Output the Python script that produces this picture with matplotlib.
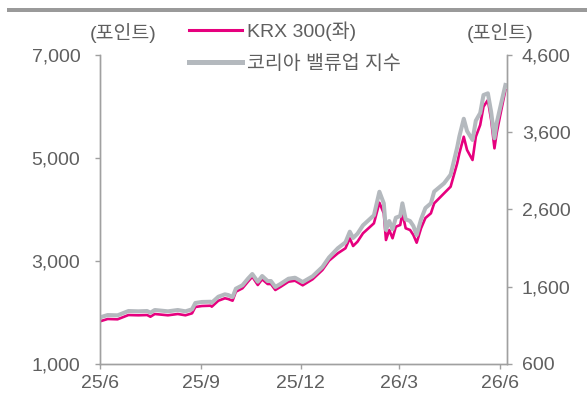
import matplotlib
matplotlib.use("Agg")
import matplotlib.pyplot as plt
import matplotlib.dates as mdates
from matplotlib.patches import Rectangle
import pandas as pd

plt.rcParams['font.family'] = ['Liberation Sans', 'Noto Sans CJK KR', 'DejaVu Sans']

dates = ["2025-06-02", "2025-06-08", "2025-06-17", "2025-06-27", "2025-07-06", "2025-07-14",
         "2025-07-17", "2025-07-21", "2025-08-02", "2025-08-11", "2025-08-18", "2025-08-24",
         "2025-08-27", "2025-09-02", "2025-09-10", "2025-09-11", "2025-09-17", "2025-09-23",
         "2025-09-26", "2025-09-30", "2025-10-03", "2025-10-09", "2025-10-14", "2025-10-18",
         "2025-10-23", "2025-10-27", "2025-11-01", "2025-11-04", "2025-11-08", "2025-11-13",
         "2025-11-20", "2025-11-26", "2025-12-03", "2025-12-12", "2025-12-21", "2025-12-27",
         "2026-01-04", "2026-01-11", "2026-01-15", "2026-01-18", "2026-01-22", "2026-01-27",
         "2026-02-06", "2026-02-11", "2026-02-15", "2026-02-17", "2026-02-20", "2026-02-23",
         "2026-02-26", "2026-03-02", "2026-03-04", "2026-03-07", "2026-03-11", "2026-03-14",
         "2026-03-17", "2026-03-21", "2026-03-25", "2026-03-30", "2026-04-02", "2026-04-11",
         "2026-04-17", "2026-04-23", "2026-04-25", "2026-04-29", "2026-05-02", "2026-05-07",
         "2026-05-10", "2026-05-14", "2026-05-17", "2026-05-21", "2026-05-24", "2026-05-27",
         "2026-05-29", "2026-06-01", "2026-06-06"]

krx300 = [1835, 1874, 1868, 1951, 1946, 1951, 1918, 1971, 1946, 1971, 1946, 1984,
          2107, 2126, 2132, 2113, 2229, 2276, 2262, 2229, 2404, 2470, 2598, 2695,
          2534, 2645, 2553, 2553, 2437, 2501, 2598, 2617, 2528, 2645, 2825, 3006,
          3149, 3247, 3441, 3291, 3375, 3538, 3732, 4132, 3926, 3408, 3602, 3441,
          3666, 3699, 3926, 3635, 3602, 3505, 3355, 3635, 3835, 3926, 4120, 4314,
          4443, 4897, 5091, 5413, 5155, 4961, 5413, 5641, 5996, 6126, 5738, 5188,
          5479, 5802, 6320]

valueup = [1208, 1234, 1230, 1286, 1282, 1286, 1264, 1299, 1282, 1299, 1282, 1308,
           1390, 1403, 1406, 1394, 1471, 1502, 1493, 1467, 1575, 1619, 1704, 1765,
           1665, 1739, 1674, 1674, 1597, 1639, 1704, 1717, 1661, 1735, 1856, 1979,
           2098, 2175, 2313, 2231, 2287, 2395, 2525, 2830, 2680, 2335, 2451, 2344,
           2494, 2516, 2680, 2473, 2451, 2386, 2270, 2473, 2619, 2680, 2832, 2939,
           3051, 3405, 3548, 3775, 3616, 3500, 3750, 3849, 4082, 4104, 3862, 3522,
           3716, 3905, 4212]

xticks = ["2025-06-01", "2025-09-01", "2025-12-01", "2026-03-01", "2026-06-01"]
xticklabels = ["25/6", "25/9", "25/12", "26/3", "26/6"]
left_ticks = [1000, 3000, 5000, 7000]
right_ticks = [600, 1600, 2600, 3600, 4600]

PINK = '#E6007E'
GRAY = '#B4B9BE'
TXT = '#5F5F5F'
AX = '#A0A0A0'

x = pd.to_datetime(dates)

fig = plt.figure(figsize=(5.87, 4.07), dpi=100)
fig.add_artist(Rectangle((7/587, 1 - 12/407), 1 - 7/587, 4/407, transform=fig.transFigure,
                         facecolor='#9A9A9A', edgecolor='none'))

ax = fig.add_axes([100/587, 1 - 364/407, 406.5/587, 309/407])
ax2 = ax.twinx()

l1, = ax.plot(x, krx300, color=PINK, lw=1.9, label='KRX 300(좌)', solid_joinstyle='round')
l2, = ax2.plot(x, valueup, color=GRAY, lw=2.9, label='코리아 밸류업 지수', solid_joinstyle='round')

ax.set_xlim(pd.Timestamp("2025-06-01"), pd.Timestamp("2026-06-07"))
ax.set_ylim(1000, 7000)
ax2.set_ylim(600, 4600)

ax.set_xticks(pd.to_datetime(xticks))
ax.set_xticklabels(xticklabels)
ax.set_yticks(left_ticks)
ax.set_yticklabels([f"{v:,}" for v in left_ticks])
ax2.set_yticks(right_ticks)
ax2.set_yticklabels([f"{v:,}" for v in right_ticks])

for a in (ax, ax2):
    a.spines['top'].set_visible(False)
    for s in ('left', 'right', 'bottom'):
        a.spines[s].set_color(AX)
        a.spines[s].set_linewidth(1.0)
    a.tick_params(colors=AX, labelcolor=TXT, labelsize=14, length=3.6, width=1.0)

ax.tick_params(axis='y', pad=10.5)
ax.tick_params(axis='x', pad=4)
ax2.tick_params(axis='y', pad=7.5)

fig.text(123/587, 1 - 33/407, '(포인트)', ha='center', va='center', fontsize=14, color=TXT)
fig.text(500/587, 1 - 33/407, '(포인트)', ha='center', va='center', fontsize=14, color=TXT)

leg = ax2.legend(handles=[l1, l2], loc='upper left', bbox_to_anchor=(189/587, 1 - 21/407),
                 bbox_transform=fig.transFigure, frameon=False, fontsize=14,
                 handlelength=2.73, handletextpad=0.26, labelspacing=0.75,
                 borderpad=0, borderaxespad=0)
for t in leg.get_texts():
    t.set_color(TXT)
leg.get_lines()[0].set_linewidth(2.2)
leg.get_lines()[1].set_linewidth(3.6)

fig.savefig('out.png', dpi=100)
